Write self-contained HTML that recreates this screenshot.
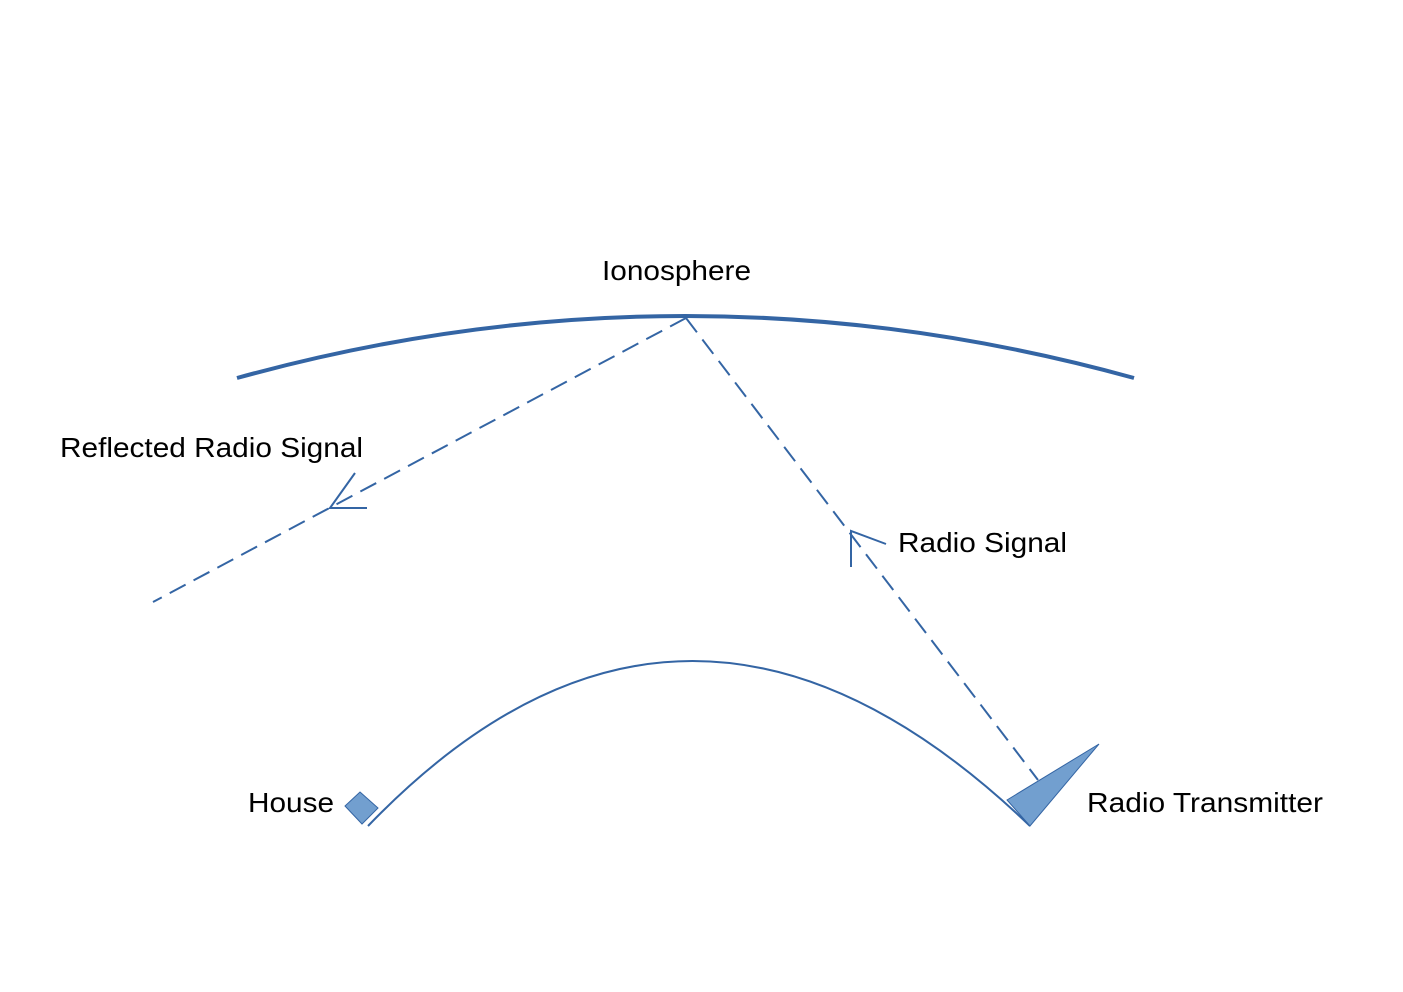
<!DOCTYPE html>
<html><head><meta charset="utf-8"><style>
html,body{margin:0;padding:0;background:#fff;width:1403px;height:992px;overflow:hidden}
svg{display:block}
text{font-family:"Liberation Sans",sans-serif;font-size:28px;fill:#000}
</style></head><body>
<svg width="1403" height="992" viewBox="0 0 1403 992" xmlns="http://www.w3.org/2000/svg">
<path d="M237,378 Q685,254 1134,378" fill="none" stroke="#3465a4" stroke-width="4"/>
<path d="M368,826 Q686,496 1030,826" fill="none" stroke="#3465a4" stroke-width="2"/>
<g stroke="#3465a4" stroke-width="2" fill="none">
<line x1="686" y1="318" x2="153" y2="602" stroke-dasharray="18,9"/>
<line x1="686" y1="318" x2="1038" y2="780" stroke-dasharray="18,9"/>
<polyline points="355,473 330,508 367,508"/>
<polyline points="851,567 851,531 886,544"/>
</g>
<polygon points="1007,800 1099,744 1030,826" fill="#729fcf" stroke="#3465a4" stroke-width="1"/>
<polygon points="360,792 378,808 362,824 345,806" fill="#729fcf" stroke="#3465a4" stroke-width="1"/>
<text x="602" y="280" textLength="149" lengthAdjust="spacingAndGlyphs">Ionosphere</text>
<text x="60" y="457" textLength="303" lengthAdjust="spacingAndGlyphs">Reflected Radio Signal</text>
<text x="898" y="552" textLength="169" lengthAdjust="spacingAndGlyphs">Radio Signal</text>
<text x="248" y="812" textLength="86" lengthAdjust="spacingAndGlyphs">House</text>
<text x="1087" y="812" textLength="236" lengthAdjust="spacingAndGlyphs">Radio Transmitter</text>
</svg>
</body></html>
